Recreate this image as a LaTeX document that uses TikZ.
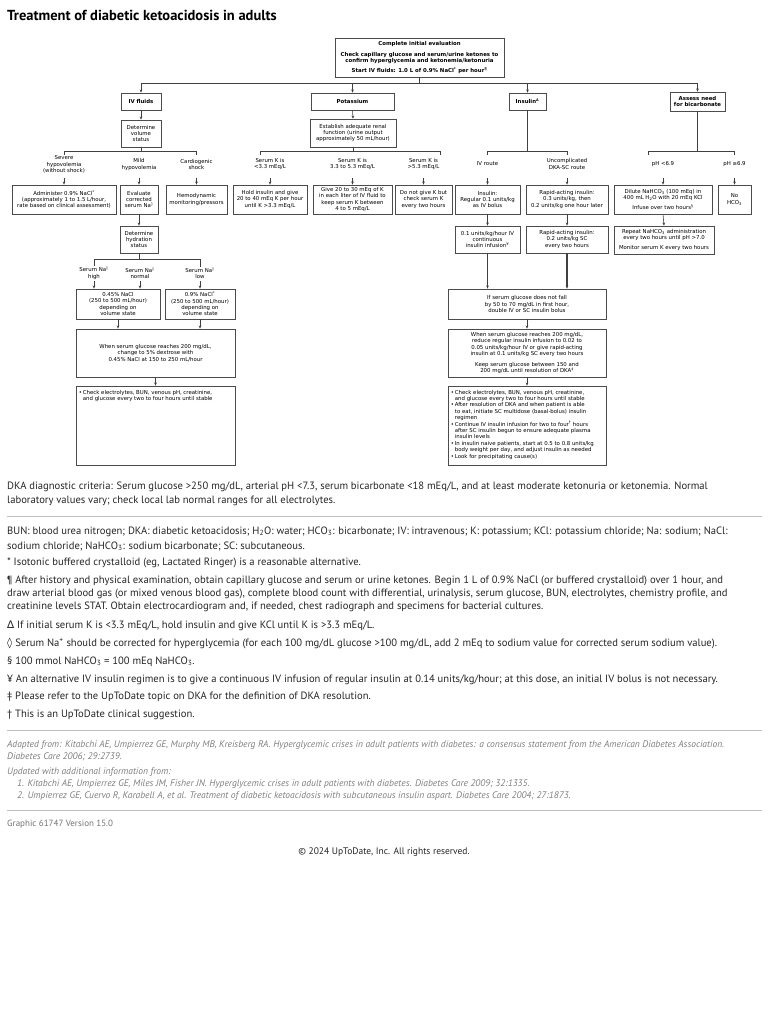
\documentclass[tikz,border=0pt]{standalone}
\usepackage{fontspec}
\setmainfont{PT Sans}
\newfontfamily\dv{DejaVu Sans}
\usetikzlibrary{arrows.meta,shadows}
\newcommand\dfont{\dv\fontsize{5.4}{6.4}\selectfont}
\newcommand\tfont{\fontsize{10.6}{14}\selectfont}
\newcommand\ifont{\fontsize{9.5}{12}\selectfont\itshape}
\newcommand\sy[1]{{\dv #1}}
\newcommand\mkbox[6][]{\node[bx,minimum width={#4-#2},minimum height={#5-#3},#1] (#6) at ({(#2+#4)/2},{(#3+#5)/2})}
\newcommand\bl{\makebox[4pt][l]{•}}
\newcommand\ind{\hspace*{4pt}}
\tikzset{
  bx/.style={draw=black!70, line width=0.6pt, fill=white, align=center, font=\dfont, inner sep=1pt,
    drop shadow={shadow xshift=0.8pt, shadow yshift=-0.8pt, fill=black!60, opacity=0.8}},
  hd/.style={font=\dfont\bfseries},
  lbl/.style={align=center, font=\dfont, inner sep=0.5pt},
  ln/.style={draw=black!75, line width=0.6pt},
  ar/.style={ln, -{Stealth[length=3.2pt,width=2.6pt]}},
  tx/.style={anchor=base west, inner sep=0pt, font=\tfont, text=black!85},
  it/.style={anchor=base west, inner sep=0pt, font=\ifont, text=black!50},
  sepl/.style={draw=black!25, line width=0.8pt},
}
\begin{document}
\begin{tikzpicture}[x=1pt,y=-1pt]
\fill[white] (0,0) rectangle (768,1024);
\useasboundingbox (0,0) rectangle (768,1024);

\node[anchor=base west, inner sep=0pt, font=\fontsize{14.5}{16}\selectfont\bfseries] (title) at (7,21) {Treatment of diabetic ketoacidosis in adults};

% ---------- top ----------
\mkbox[hd]{335}{38}{504}{77}{top}{Complete initial evaluation\\[4pt]Check capillary glucose and serum/urine ketones to\\confirm hyperglycemia and ketonemia/ketonuria\\[3.5pt]Start IV fluids: 1.0 L of 0.9\% NaCl\textsuperscript{*} per hour\textsuperscript{¶}};

\mkbox[hd]{121}{93}{161}{110}{ivf}{IV fluids};
\mkbox[hd]{311}{93}{394}{110}{pot}{Potassium};
\mkbox[hd]{509}{93}{546}{110}{ins}{Insulin\textsuperscript{∆}};
\mkbox[hd]{670}{92}{725}{111}{bic}{Assess need\\for bicarbonate};

\coordinate (bus) at (420,83);
\draw[ln] (top.south) -- (top.south |- bus);
\draw[ln] (ivf.north |- bus) -- (bic.north |- bus);
\foreach \n in {ivf,pot,ins,bic} \draw[ar] (\n.north |- bus) -- (\n.north);

\mkbox{121}{120}{161}{147}{vol}{Determine\\volume\\status};
\mkbox{310}{119}{396}{147}{ren}{Establish adequate renal\\function (urine output\\approximately 50 mL/hour)};
\draw[ar] (ivf.south) -- (vol.north);
\draw[ar] (pot.south) -- (ren.north);

% row C boxes
\mkbox{12}{185}{116}{214}{adm}{Administer 0.9\% NaCl\textsuperscript{*}\\(approximately 1 to 1.5 L/hour,\\rate based on clinical assessment)};
\mkbox{120}{185}{158}{214}{evl}{Evaluate\\corrected\\serum Na\textsuperscript{◊}};
\mkbox{166}{185}{227}{214}{hem}{Hemodynamic\\monitoring/pressors};
\mkbox{233}{185}{307}{214}{hold}{Hold insulin and give\\20 to 40 mEq K per hour\\until K >3.3 mEq/L};
\mkbox{313}{185}{392}{214}{give}{Give 20 to 30 mEq of K\\in each liter of IV fluid to\\keep serum K between\\4 to 5 mEq/L};
\mkbox{395}{185}{452}{214}{dont}{Do not give K but\\check serum K\\every two hours};
\mkbox{455}{185}{520}{214}{ivb}{Insulin:\\Regular 0.1 units/kg\\as IV bolus};
\mkbox{526}{185}{608}{214}{rap}{Rapid-acting insulin:\\0.3 units/kg, then\\0.2 units/kg one hour later};
\mkbox{614}{185}{712}{214}{dil}{Dilute NaHCO\textsubscript{3} (100 mEq) in\\400 mL H\textsubscript{2}O with 20 mEq KCl\\[4pt]Infuse over two hours\textsuperscript{§}};
\mkbox{718}{185}{751}{214}{noh}{No\\HCO\textsubscript{3}};

% branch labels
\node[lbl] (lsev) at (adm.north |- 0,164.5) {Severe\\hypovolemia\\(without shock)};
\node[lbl] (lmil) at (evl.north |- 0,164.5) {Mild\\hypovolemia};
\node[lbl] (lcar) at (hem.north |- 0,164.5) {Cardiogenic\\shock};
\node[lbl] (lk1) at (hold.north |- 0,164) {Serum K is\\<3.3 mEq/L};
\node[lbl] (lk2) at (give.north |- 0,164) {Serum K is\\3.3 to 5.3 mEq/L};
\node[lbl] (lk3) at (dont.north |- 0,164) {Serum K is\\>5.3 mEq/L};
\node[lbl] (liv) at (ivb.north |- 0,164) {IV route};
\node[lbl] (lsc) at (rap.north |- 0,164) {Uncomplicated\\DKA-SC route};
\node[lbl] (lp1) at (dil.north |- 0,164) {pH <6.9};
\node[lbl] (lp2) at (noh.north |- 0,164) {pH ≥6.9};

% branch buses
\coordinate (b1) at (0,151);
\coordinate (a1) at (0,178);
\draw[ln] (vol.south) -- (vol.south |- b1);
\draw[ln] (lsev.north |- 0,155) -- (lsev.north |- b1) -- (lcar.north |- b1) -- (lcar.north |- 0,155);
\draw[ln] (ren.south) -- (ren.south |- b1);
\coordinate (kL) at (260,151); \coordinate (kR) at (440,151);
\draw[ln] (kL) ++(0,4) -- (kL) -- (kR) -- ++(0,4);
\draw[ln] (ins.south) -- (ins.south |- b1);
\draw[ln] (liv.north |- 0,155) -- (liv.north |- b1) -- (lsc.north |- b1) -- (lsc.north |- 0,155);
\draw[ln] (bic.south) -- (bic.south |- b1);
\coordinate (pL) at (648,151); \coordinate (pR) at (noh.north |- b1);
\draw[ln] (pL) ++(0,4) -- (pL) -- (pR) -- ++(0,4);
\foreach \n in {adm,evl,hem,hold,give,dont,ivb,rap,dil,noh} \draw[ar] (\n.north |- a1) -- (\n.north);

% ---------- row D ----------
\mkbox{120}{226}{158}{253}{hyd}{Determine\\hydration\\status};
\mkbox{455}{226}{520}{253}{ivi}{0.1 units/kg/hour IV\\continuous\\insulin infusion\textsuperscript{¥}};
\mkbox{526}{226}{608}{253}{rsc}{Rapid-acting insulin:\\0.2 units/kg SC\\every two hours};
\mkbox{614}{226}{714}{254}{rep}{Repeat NaHCO\textsubscript{3} administration\\every two hours until pH >7.0\\[4pt]Monitor serum K every two hours};
\draw[ar] (evl.south) -- (hyd.north);
\draw[ar] (ivb.south) -- (ivi.north);
\draw[ar] (rap.south) -- (rsc.north);
\draw[ar] (dil.south) -- (rep.north);

% Na branch
\coordinate (b2) at (0,259);
\coordinate (a2) at (0,281);
\node[lbl] (lnh) at (94,273) {Serum Na\textsuperscript{◊}\\high};
\node[lbl] (lnn) at (140,273) {Serum Na\textsuperscript{◊}\\normal};
\node[lbl] (lnl) at (200,273) {Serum Na\textsuperscript{◊}\\low};
\draw[ln] (hyd.south) -- (hyd.south |- b2);
\draw[ln] (lnh.north) -- (lnh.north |- b2) -- (lnl.north |- b2) -- (lnl.north);

% ---------- row E ----------
\mkbox{76}{289}{160}{319}{n45}{0.45\% NaCl\\(250 to 500 mL/hour)\\depending on\\volume state};
\mkbox{165}{289}{235}{319}{n09}{0.9\% NaCl\textsuperscript{*}\\(250 to 500 mL/hour)\\depending on\\volume state};
\mkbox{448}{289}{606}{319}{gf}{If serum glucose does not fall\\by 50 to 70 mg/dL in first hour,\\double IV or SC insulin bolus};
\draw[ar] (lnh.south |- a2) -- (lnh.south |- n45.north);
\draw[ar] (lnn.south |- a2) -- (lnn.south |- n45.north);
\draw[ar] (lnl.south |- a2) -- (n09.north);
\draw[ar] (ivi.south) -- (ivi.south |- gf.north);
\draw[ar, line width=1.1pt] (rsc.south) -- (rsc.south |- gf.north);

% ---------- row F ----------
\mkbox{76}{329}{235}{377}{lg}{When serum glucose reaches 200 mg/dL,\\change to 5\% dextrose with\\0.45\% NaCl at 150 to 250 mL/hour};
\mkbox{448}{329}{606}{377}{rg}{When serum glucose reaches 200 mg/dL,\\reduce regular insulin infusion to 0.02 to\\0.05 units/kg/hour IV or give rapid-acting\\insulin at 0.1 units/kg SC every two hours\\[4pt]Keep serum glucose between 150 and\\200 mg/dL until resolution of DKA\textsuperscript{‡}};
\draw[ar] (n45.south) -- (n45.south |- lg.north);
\draw[ar] (n09.south) -- (n09.south |- lg.north);
\draw[ar] (gf.south) -- (rg.north);

% ---------- row G ----------
\mkbox{76}{386}{235}{465}{lb}{};
\mkbox{448}{386}{606}{465}{rb}{};
\draw[ar] (lg.south) -- (lb.north);
\draw[ar] (rg.south) -- (rb.north);
\node[anchor=north west, align=left, font=\dfont, inner sep=0pt] (lbt) at ([shift={(3,4)}]lb.north west)
 {\bl Check electrolytes, BUN, venous pH, creatinine,\\\ind and glucose every two to four hours until stable};
\node[anchor=north west, align=left, font=\dfont, inner sep=0pt] (rbt) at ([shift={(3,4)}]rb.north west)
 {\bl Check electrolytes, BUN, venous pH, creatinine,\\\ind and glucose every two to four hours until stable\\
  \bl After resolution of DKA and when patient is able\\\ind to eat, initiate SC multidose (basal-bolus) insulin\\\ind regimen\\
  \bl Continue IV insulin infusion for two to four\textsuperscript{†} hours\\\ind after SC insulin begun to ensure adequate plasma\\\ind insulin levels\\
  \bl In insulin naive patients, start at 0.5 to 0.8 units/kg\\\ind body weight per day, and adjust insulin as needed\\
  \bl Look for precipitating cause(s)};

% ---------- footnotes ----------
\node[tx] (f1) at (7,489) {DKA diagnostic criteria: Serum glucose >250 mg/dL, arterial pH <7.3, serum bicarbonate <18 mEq/L, and at least moderate ketonuria or ketonemia. Normal};
\node[tx] (f1b) at (7,503) {laboratory values vary; check local lab normal ranges for all electrolytes.};
\coordinate (s1a) at (7,516); \coordinate (s1b) at (762,516);
\draw[sepl] (s1a) -- (s1b);
\node[tx] (f2) at (7,534) {BUN: blood urea nitrogen; DKA: diabetic ketoacidosis; H\textsubscript{2}O: water; HCO\textsubscript{3}: bicarbonate; IV: intravenous; K: potassium; KCl: potassium chloride; Na: sodium; NaCl:};
\node[tx] (f2b) at (7,549) {sodium chloride; NaHCO\textsubscript{3}: sodium bicarbonate; SC: subcutaneous.};
\node[tx] (f3) at (7,565) {* Isotonic buffered crystalloid (eg, Lactated Ringer) is a reasonable alternative.};
\node[tx] (f4) at (7,583) {¶ After history and physical examination, obtain capillary glucose and serum or urine ketones. Begin 1 L of 0.9\% NaCl (or buffered crystalloid) over 1 hour, and};
\node[tx] (f4b) at (7,596) {draw arterial blood gas (or mixed venous blood gas), complete blood count with differential, urinalysis, serum glucose, BUN, electrolytes, chemistry profile, and};
\node[tx] (f4c) at (7,609) {creatinine levels STAT. Obtain electrocardiogram and, if needed, chest radiograph and specimens for bacterial cultures.};
\node[tx] (f5) at (7,628) {\sy{∆} If initial serum K is <3.3 mEq/L, hold insulin and give KCl until K is >3.3 mEq/L.};
\node[tx] (f6) at (7,646) {\sy{◊} Serum Na\textsuperscript{+} should be corrected for hyperglycemia (for each 100 mg/dL glucose >100 mg/dL, add 2 mEq to sodium value for corrected serum sodium value).};
\node[tx] (f7) at (7,664) {§ 100 mmol NaHCO\textsubscript{3} = 100 mEq NaHCO\textsubscript{3}.};
\node[tx] (f8) at (7,682) {¥ An alternative IV insulin regimen is to give a continuous IV infusion of regular insulin at 0.14 units/kg/hour; at this dose, an initial IV bolus is not necessary.};
\node[tx] (f9) at (7,699) {‡ Please refer to the UpToDate topic on DKA for the definition of DKA resolution.};
\node[tx] (f10) at (7,717) {† This is an UpToDate clinical suggestion.};
\coordinate (s2a) at (7,730); \coordinate (s2b) at (762,730);
\draw[sepl] (s2a) -- (s2b);
\node[it] (r1) at (7,747) {Adapted from: Kitabchi AE, Umpierrez GE, Murphy MB, Kreisberg RA. Hyperglycemic crises in adult patients with diabetes: a consensus statement from the American Diabetes Association.};
\node[it] (r1b) at (7,759) {Diabetes Care 2006; 29:2739.};
\node[it] (r2) at (7,774) {Updated with additional information from:};
\node[it] (r3) at (17,786) {1. Kitabchi AE, Umpierrez GE, Miles JM, Fisher JN. Hyperglycemic crises in adult patients with diabetes. Diabetes Care 2009; 32:1335.};
\node[it] (r4) at (17,798) {2. Umpierrez GE, Cuervo R, Karabell A, et al. Treatment of diabetic ketoacidosis with subcutaneous insulin aspart. Diabetes Care 2004; 27:1873.};
\coordinate (s3a) at (7,810); \coordinate (s3b) at (762,810);
\draw[sepl] (s3a) -- (s3b);
\node[anchor=base west, inner sep=0pt, font=\fontsize{9}{11}\selectfont, text=black!55] (gr) at (7,826) {Graphic 61747 Version 15.0};
\node[anchor=base, inner sep=0pt, font=\fontsize{9.5}{11}\selectfont, text=black!85] (cp) at (384,854) {© 2024 UpToDate, Inc. All rights reserved.};
\end{tikzpicture}
\end{document}
